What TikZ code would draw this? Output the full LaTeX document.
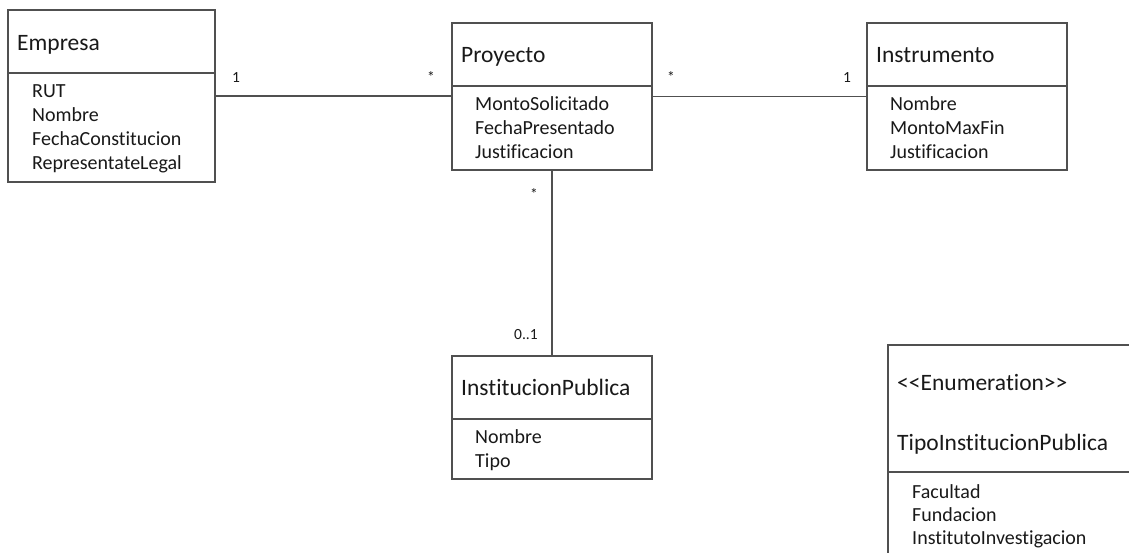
\documentclass[tikz,border=0pt]{standalone}
\usepackage{fontspec}
\setmainfont{Carlito}[Ligatures={NoCommon}]
\definecolor{linec}{RGB}{80,80,80}
\definecolor{txtc}{RGB}{25,25,25}
\tikzset{
  classbox/.style={draw=linec, line width=1.3pt, fill=white, inner sep=0pt, outer sep=0pt},
  divider/.style={draw=linec, line width=1.3pt},
  assoc/.style={draw=linec, line width=1.3pt},
  ttl/.style={anchor=base west, inner sep=0pt, text=txtc, font=\fontsize{23.5}{28}\selectfont},
  attr/.style={anchor=base west, inner sep=0pt, text=txtc, font=\fontsize{20}{24}\selectfont},
  mult/.style={anchor=base west, inner sep=0pt, text=txtc, font=\fontsize{15.5}{18}\selectfont},
}
\begin{document}
\begin{tikzpicture}[x=1pt, y=-1pt]
\useasboundingbox (0,0) rectangle (1129,552);
\clip (0,0) rectangle (1129,552);
\fill[white] (0,0) rectangle (1129,552);

% class boxes
\node[classbox, minimum width=207pt, minimum height=172pt] (emp) at (111.5,96) {};
\node[classbox, minimum width=200pt, minimum height=147pt] (proj) at (552,96.5) {};
\node[classbox, minimum width=200pt, minimum height=147pt] (instr) at (967,96.5) {};
\node[classbox, minimum width=200pt, minimum height=123pt] (ip) at (552,417.5) {};
\node[classbox, minimum width=260pt, minimum height=240pt] (enum) at (1018,465) {};

% compartment dividers
\draw[divider] (emp.west |- 0,73) -- (emp.east |- 0,73);
\draw[divider] (proj.west |- 0,86) -- (proj.east |- 0,86);
\draw[divider] (instr.west |- 0,86) -- (instr.east |- 0,86);
\draw[divider] (ip.west |- 0,419) -- (ip.east |- 0,419);
\draw[divider] (enum.west |- 0,472) -- (enum.east |- 0,472);

% associations
\draw[assoc] (emp.east) -- (emp.east -| proj.west);
\draw[assoc] (proj.east) -- (proj.east -| instr.west);
\draw[assoc] (proj.south) -- (ip.north);

% Empresa
\node[ttl] (empName) at (17,50) {Empresa};
\node[attr] (empA1) at (32,97) {RUT};
\node[attr] (empA2) at (32,121) {Nombre};
\node[attr] (empA3) at (32,145) {FechaConstitucion};
\node[attr] (empA4) at (32,169) {RepresentateLegal};

% Proyecto
\node[ttl] (projName) at (461,62) {Proyecto};
\node[attr] (projA1) at (475,110) {MontoSolicitado};
\node[attr] (projA2) at (475,134) {FechaPresentado};
\node[attr] (projA3) at (475,158) {Justificacion};

% Instrumento
\node[ttl] (instrName) at (876,62) {Instrumento};
\node[attr] (instrA1) at (890,110) {Nombre};
\node[attr] (instrA2) at (890,134) {MontoMaxFin};
\node[attr] (instrA3) at (890,158) {Justificacion};

% InstitucionPublica
\node[ttl] (ipName) at (461,395) {InstitucionPublica};
\node[attr] (ipA1) at (475,443) {Nombre};
\node[attr] (ipA2) at (475,467) {Tipo};

% TipoInstitucionPublica
\node[ttl] (enumSt) at (897,390) {<\kern0pt<Enumeration>\kern0pt>};
\node[ttl] (enumName) at (897,450) {TipoInstitucionPublica};
\node[attr] (enumA1) at (912,498) {Facultad};
\node[attr] (enumA2) at (912,521) {Fundacion};
\node[attr] (enumA3) at (912,544) {InstitutoInvestigacion};

% multiplicities
\node[mult] (m1) at (232,82) {1};
\node[mult] (m2) at (427,82) {*};
\node[mult] (m3) at (667,82) {*};
\node[mult] (m4) at (843,82) {1};
\node[mult] (m5) at (530,199) {*};
\node[mult] (m6) at (514,339) {0..1};
\end{tikzpicture}
\end{document}
